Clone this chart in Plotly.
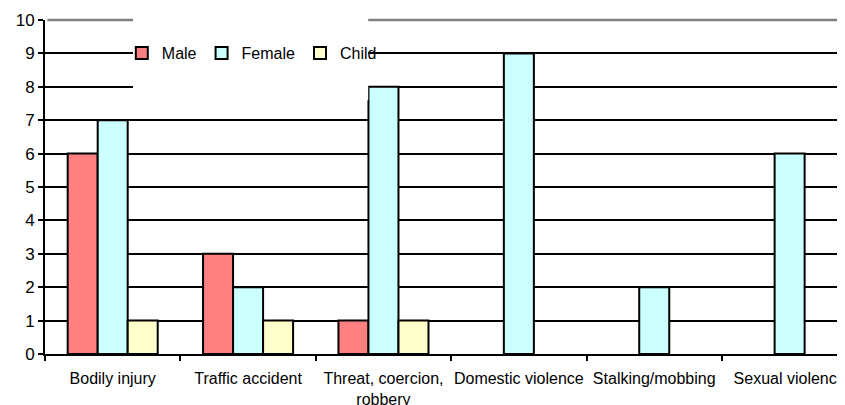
import plotly.graph_objects as go

categories = ["Bodily injury", "Traffic accident", "Threat, coercion,<br>robbery",
              "Domestic violence", "Stalking/mobbing", "Sexual violence"]
male = [6, 3, 1, None, None, None]
female = [7, 2, 8, 9, 2, 6]
child = [1, 1, 1, None, None, None]
y_ticks = list(range(0, 11))

FONT = "Liberation Sans, Arial, sans-serif"

fig = go.Figure()
for name, vals, color in [("Male", male, "#FF8080"),
                          ("Female", female, "#CCFFFF"),
                          ("Child", child, "#FFFFCC")]:
    fig.add_trace(go.Bar(name=name, x=categories, y=vals,
                         marker=dict(color=color, line=dict(color="black", width=2))))

fig.update_layout(
    width=837, height=397,
    template="none",
    barmode="group", bargap=0.335, bargroupgap=0,
    margin=dict(l=37, r=0, t=12, b=51),
    paper_bgcolor="white", plot_bgcolor="white",
    font=dict(family=FONT, size=16, color="black"),
    showlegend=True,
    legend=dict(orientation="h", x=0.096, y=0.901, xanchor="left", yanchor="middle",
                bgcolor="rgba(0,0,0,0)", font=dict(size=16), itemwidth=30,
                tracegroupgap=0, itemclick=False),
    xaxis=dict(range=[-0.5, 5.409], showgrid=False, showline=True, linecolor="black",
               linewidth=2, ticks="outside", ticklen=5, tickwidth=2, tickcolor="black",
               tickson="boundaries", tickfont=dict(size=16), tickangle=0,
               ticklabelstandoff=9, automargin=False),
    yaxis=dict(range=[0, 10], tickvals=y_ticks, showgrid=True, gridcolor="black",
               gridwidth=2, showline=True, linecolor="black", linewidth=2,
               ticks="outside", ticklen=5, tickwidth=2, tickcolor="black",
               zeroline=False, tickfont=dict(size=17), automargin=False),
    shapes=[
        dict(type="rect", xref="paper", yref="paper", x0=0.11, x1=0.404, y0=0.76, y1=1.02,
             fillcolor="white", line=dict(width=0), layer="above"),
        dict(type="rect", xref="paper", yref="paper", x0=0.003, x1=1, y0=0.995, y1=1.02,
             fillcolor="white", line=dict(width=0), layer="above"),
        dict(type="line", xref="paper", yref="paper", x0=0.003, x1=0.11, y0=1, y1=1,
             line=dict(color="#808080", width=2.5), layer="above"),
        dict(type="line", xref="paper", yref="paper", x0=0.404, x1=1, y0=1, y1=1,
             line=dict(color="#808080", width=2.5), layer="above"),
    ],
)

fig.write_html("out.html")
